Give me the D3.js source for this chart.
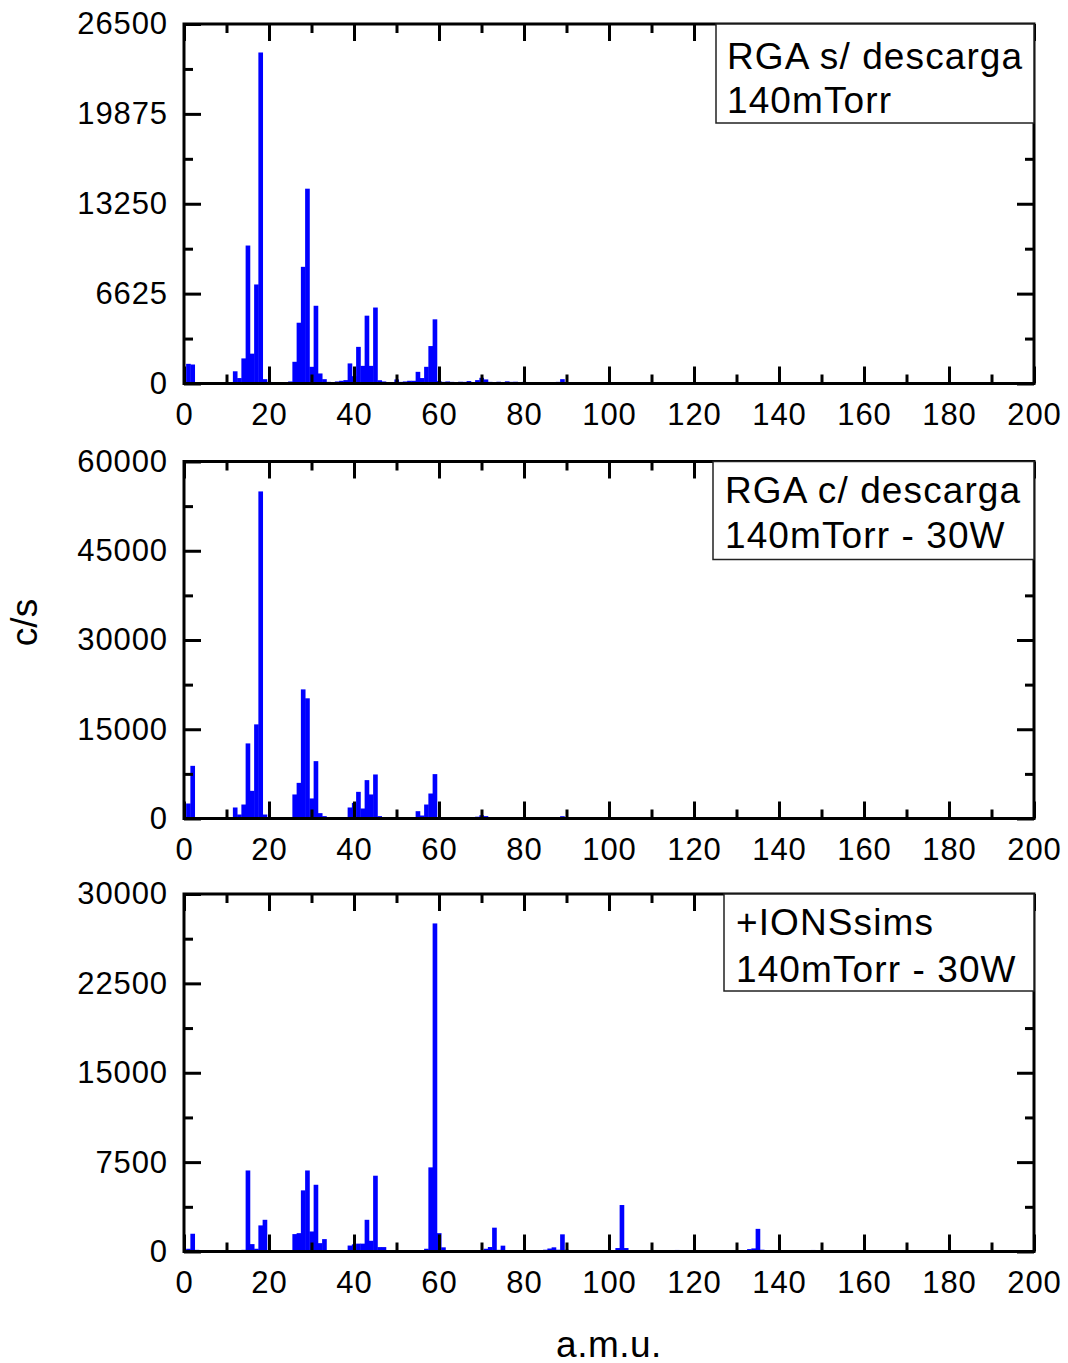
<!DOCTYPE html>
<html>
<head>
<meta charset="utf-8">
<script src="https://cdn.jsdelivr.net/npm/d3@7/dist/d3.min.js"></script>
<style>
  body { margin: 0; background: #fff; }
  svg text { font-family: "Liberation Sans", Arial, Helvetica, sans-serif; fill: #000; }
</style>
</head>
<body>
<svg id="chart" width="1068" height="1363"></svg>
<script>
// ---- shared axis values ----
const amuMajorTicks = [0, 20, 40, 60, 80, 100, 120, 140, 160, 180, 200];
const amuMinorTicks = [10, 30, 50, 70, 90, 110, 130, 150, 170, 190];

// ---- spectrum 1: RGA without discharge ----
const amu1 = [1, 2, 9, 12, 13, 14, 15, 16, 17, 18, 19, 20, 24, 25, 26, 27, 28, 29, 30, 31, 32, 33, 34, 35, 36, 37, 38,
  39, 40, 41, 42, 43, 44, 45, 46, 47, 48, 49, 50, 51, 52, 53, 54, 55, 56, 57, 58, 59, 60, 61, 62, 63, 64, 65, 66,
  67, 68, 69, 70, 71, 72, 73, 74, 75, 76, 77, 78, 79, 80, 81, 82, 83, 84, 85, 86, 87, 88, 89, 90, 95, 100, 103,
  108, 116, 125, 134, 148, 152, 160, 165, 185, 187];
const cps1 = [1450, 1400, 50, 900, 400, 1850, 10170, 2200, 7300, 24400, 320, 120, 80, 150, 1600, 4480, 8600, 14360,
  1230, 5730, 740, 320, 120, 80, 150, 200, 250, 1480, 540, 2700, 1300, 5000, 1300, 5600, 240, 150, 100, 100, 300,
  120, 150, 200, 200, 860, 400, 1230, 2760, 4730, 180, 120, 150, 120, 100, 130, 120, 180, 100, 250, 420, 300, 120,
  100, 130, 100, 160, 120, 130, 110, 120, 100, 80, 100, 90, 100, 80, 60, 120, 320, 60, 40, 50, 40, 30, 40, 30, 40,
  90, 30, 30, 30, 30, 30];
const yTicks1 = [0, 6625, 13250, 19875, 26500];
const yMinor1 = [3312.5, 9937.5, 16562.5, 23187.5];
const legend1 = ["RGA s/ descarga", "140mTorr"];

// ---- spectrum 2: RGA with discharge ----
const amu2 = [1, 2, 9, 12, 13, 14, 15, 16, 17, 18, 19, 20, 25, 26, 27, 28, 29, 30, 31, 32, 33, 34, 35, 36, 37, 38,
  39, 40, 41, 42, 43, 44, 45, 46, 47, 48, 49, 50, 51, 52, 53, 54, 55, 56, 57, 58, 59, 60, 61, 62, 64, 66, 68, 69,
  70, 71, 72, 73, 74, 75, 78, 82, 85, 88, 89, 90, 96, 104, 112, 130, 147, 160, 175, 190];
const cps2 = [2520, 8850, 50, 1850, 670, 2350, 12620, 4650, 15820, 54970, 670, 200, 200, 4040, 5990, 21700, 20200,
  3370, 9640, 900, 400, 150, 100, 100, 150, 200, 1850, 2620, 4480, 1680, 6450, 4040, 7400, 400, 150, 100, 150, 250,
  150, 100, 120, 120, 1230, 500, 2350, 4200, 7460, 250, 100, 100, 80, 80, 100, 300, 550, 400, 150, 100, 250, 150,
  80, 60, 60, 150, 390, 100, 50, 50, 40, 40, 50, 40, 40, 40];
const yTicks2 = [0, 15000, 30000, 45000, 60000];
const yMinor2 = [7500, 22500, 37500, 52500];
const legend2 = ["RGA c/ descarga", "140mTorr - 30W"];

// ---- spectrum 3: +IONSsims ----
const amu3 = [1, 2, 3, 12, 13, 14, 15, 16, 17, 18, 19, 20, 25, 26, 27, 28, 29, 30, 31, 32, 33, 36, 37, 38, 39, 40,
  41, 42, 43, 44, 45, 46, 47, 48, 49, 55, 56, 57, 58, 59, 60, 61, 62, 63, 66, 67, 68, 69, 70, 71, 72, 73, 74, 75,
  76, 84, 85, 86, 87, 88, 89, 90, 95, 100, 102, 103, 104, 105, 116, 120, 133, 134, 135, 136, 140, 148, 150, 155,
  160, 165, 180, 192];
const cps3 = [230, 1490, 140, 50, 50, 140, 6800, 620, 230, 2190, 2660, 60, 60, 1460, 1540, 5130, 6800, 1680, 5600,
  700, 1040, 50, 50, 60, 500, 600, 660, 660, 2660, 900, 6360, 370, 370, 60, 50, 60, 100, 230, 7060, 27530, 1540,
  350, 80, 60, 60, 60, 60, 60, 100, 230, 375, 2000, 140, 490, 100, 100, 150, 250, 350, 150, 1440, 150, 60, 60, 290,
  3900, 290, 60, 130, 80, 200, 260, 1900, 150, 60, 130, 60, 50, 50, 50, 40, 60];
const yTicks3 = [0, 7500, 15000, 22500, 30000];
const yMinor3 = [3750, 11250, 18750, 26250];
const legend3 = ["+IONSsims", "140mTorr - 30W"];

// ---- layout ----
const plotLeft = 184, plotRight = 1034;
const panels = [
  { amu: amu1, cps: cps1, ticks: yTicks1, minor: yMinor1, legend: legend1,
    top: 24, bottom: 383.5, box: { x: 716, h: 99 }, textX: 727, lines: [68.5, 113] },
  { amu: amu2, cps: cps2, ticks: yTicks2, minor: yMinor2, legend: legend2,
    top: 461.5, bottom: 818.5, box: { x: 713, h: 98 }, textX: 725, lines: [503, 547.5] },
  { amu: amu3, cps: cps3, ticks: yTicks3, minor: yMinor3, legend: legend3,
    top: 894, bottom: 1251.5, box: { x: 724, h: 97 }, textX: 736, lines: [934.5, 982] }
];

const svg = d3.select("#chart");
const x = d3.scaleLinear().domain([0, 200]).range([plotLeft, plotRight]);

const majorLen = 17, minorLen = 9, tickFont = 31;

function styleAxis(g) {
  g.select(".domain").remove();
  g.selectAll(".tick line").attr("stroke", "#000").attr("stroke-width", 3);
  g.selectAll(".tick text").attr("font-size", tickFont).attr("fill", "#000")
    .attr("letter-spacing", "0.9px")
    .attr("font-family", "\"Liberation Sans\", Arial, sans-serif");
}

panels.forEach(p => {
  const yMax = p.ticks[p.ticks.length - 1];
  const y = d3.scaleLinear().domain([0, yMax]).range([p.bottom, p.top]);
  const g = svg.append("g");

  // spectrum bars, one amu wide, centred on each mass
  const pts = p.amu.map((m, i) => ({ m, v: p.cps[i] }));
  g.append("g").selectAll("rect").data(pts).join("rect")
    .attr("x", d => x(d.m - 0.5))
    .attr("width", d => x(d.m + 0.5) - x(d.m - 0.5) + 0.4)
    .attr("y", d => y(d.v))
    .attr("height", d => Math.max(1.2, p.bottom - y(d.v)))
    .attr("fill", "#0000ff");

  // bottom axis with labels, ticks pointing inward
  g.append("g").attr("transform", `translate(0,${p.bottom})`)
    .call(d3.axisBottom(x).tickValues(amuMajorTicks).tickSize(-majorLen).tickPadding(19).tickFormat(d3.format("d")))
    .call(styleAxis);
  g.append("g").attr("transform", `translate(0,${p.bottom})`)
    .call(d3.axisBottom(x).tickValues(amuMinorTicks).tickSize(-minorLen).tickFormat(""))
    .call(styleAxis);
  // top axis (ticks only)
  g.append("g").attr("transform", `translate(0,${p.top})`)
    .call(d3.axisTop(x).tickValues(amuMajorTicks).tickSize(-majorLen).tickFormat(""))
    .call(styleAxis);
  g.append("g").attr("transform", `translate(0,${p.top})`)
    .call(d3.axisTop(x).tickValues(amuMinorTicks).tickSize(-minorLen).tickFormat(""))
    .call(styleAxis);
  // left axis with labels
  g.append("g").attr("transform", `translate(${plotLeft},0)`)
    .call(d3.axisLeft(y).tickValues(p.ticks).tickSize(-majorLen).tickPadding(16).tickFormat(d3.format("d")))
    .call(styleAxis);
  g.append("g").attr("transform", `translate(${plotLeft},0)`)
    .call(d3.axisLeft(y).tickValues(p.minor).tickSize(-minorLen).tickFormat(""))
    .call(styleAxis);
  // right axis (ticks only)
  g.append("g").attr("transform", `translate(${plotRight},0)`)
    .call(d3.axisRight(y).tickValues(p.ticks).tickSize(-majorLen).tickFormat(""))
    .call(styleAxis);
  g.append("g").attr("transform", `translate(${plotRight},0)`)
    .call(d3.axisRight(y).tickValues(p.minor).tickSize(-minorLen).tickFormat(""))
    .call(styleAxis);

  // frame
  g.append("rect")
    .attr("x", plotLeft).attr("y", p.top)
    .attr("width", plotRight - plotLeft).attr("height", p.bottom - p.top)
    .attr("fill", "none").attr("stroke", "#000").attr("stroke-width", 3);

  // legend box in the top-right corner
  g.append("rect")
    .attr("x", p.box.x).attr("y", p.top)
    .attr("width", plotRight - p.box.x).attr("height", p.box.h)
    .attr("fill", "#fff").attr("stroke", "#222").attr("stroke-width", 1.5);
  p.legend.forEach((t, i) => {
    g.append("text").attr("x", p.textX).attr("y", p.lines[i])
      .attr("font-size", 37).attr("letter-spacing", "1.1px").text(t);
  });
});

// axis titles
svg.append("text")
  .attr("transform", "translate(37,622.5) rotate(-90)")
  .attr("text-anchor", "middle").attr("font-size", 37).text("c/s");
svg.append("text")
  .attr("x", 609).attr("y", 1356.5)
  .attr("text-anchor", "middle").attr("font-size", 37).attr("letter-spacing", "0.5px").text("a.m.u.");
</script>
</body>
</html>
